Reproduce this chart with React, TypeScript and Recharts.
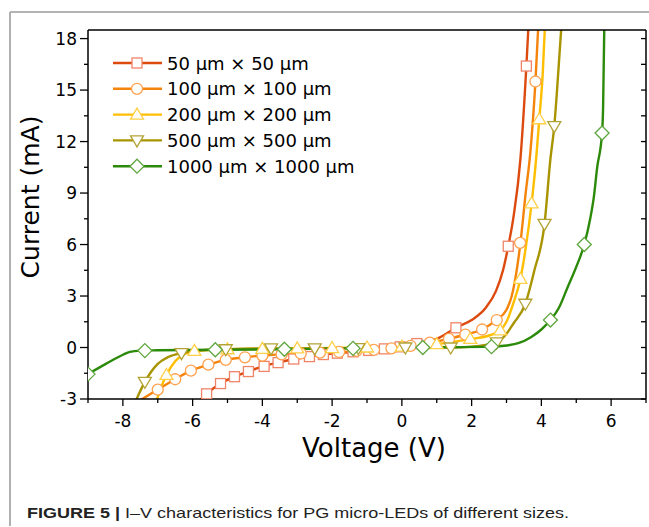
import React from "react"
import { ComposedChart, Line, Scatter, XAxis, YAxis, Legend } from "recharts"

// tick values
const voltageMajor = [-8, -6, -4, -2, 0, 2, 4, 6]
const voltageTicks = [-9, -8, -7, -6, -5, -4, -3, -2, -1, 0, 1, 2, 3, 4, 5, 6, 7]
const currentMajor = [-3, 0, 3, 6, 9, 12, 15, 18]
const currentTicks = [-3, -1.5, 0, 1.5, 3, 4.5, 6, 7.5, 9, 10.5, 12, 13.5, 15, 16.5, 18]

const sizeLabels = [
  "50 μm × 50 μm",
  "100 μm × 100 μm",
  "200 μm × 200 μm",
  "500 μm × 500 μm",
  "1000 μm × 1000 μm",
]

// I-V curves, [voltage (V), current (mA)]
const curve50 = [
  [-5.85, -3.2], [-5.6, -2.7], [-5.2, -2.1], [-4.8, -1.7], [-4.4, -1.4], [-4.0, -1.1],
  [-3.55, -0.88], [-3.1, -0.67], [-2.65, -0.53], [-2.2, -0.4], [-1.8, -0.32], [-1.4, -0.25],
  [-1.0, -0.18], [-0.5, -0.08], [0, 0.05], [0.5, 0.25], [1.0, 0.5], [1.55, 1.15], [2.0, 1.6],
  [2.4, 2.3], [2.7, 3.3], [2.9, 4.5], [3.05, 5.9], [3.2, 7.6], [3.4, 11], [3.57, 16.4], [3.65, 19.5],
]
const curve100 = [
  [-7.6, -3.2], [-7.0, -2.45], [-6.5, -1.85], [-6.05, -1.35], [-5.55, -1.0], [-5.05, -0.72],
  [-4.5, -0.57], [-4.0, -0.47], [-3.45, -0.4], [-2.9, -0.35], [-2.0, -0.28], [-1.0, -0.18],
  [0, 0.0], [0.8, 0.28], [1.35, 0.5], [1.8, 0.75], [2.3, 1.05], [2.7, 1.6], [3.0, 2.2],
  [3.15, 3.0], [3.3, 4.6], [3.4, 6.1], [3.55, 9.0], [3.68, 11.3], [3.83, 15.5], [3.93, 19.5],
]
const curve200 = [
  [-7.05, -3.2], [-6.9, -2.3], [-6.75, -1.6], [-6.5, -0.8], [-6.2, -0.35], [-5.9, -0.2],
  [-5.0, -0.1], [-4.0, -0.08], [-3.0, -0.05], [-2.0, -0.03], [-1.0, 0.0], [0, 0.05],
  [1.0, 0.2], [2.0, 0.5], [2.5, 0.7], [2.82, 1.0], [3.0, 1.5], [3.2, 2.6], [3.4, 4.0],
  [3.55, 5.8], [3.72, 8.4], [3.85, 11], [3.94, 13.3], [4.04, 16], [4.12, 19.5],
]
const curve500 = [
  [-7.65, -3.2], [-7.37, -2.0], [-7.0, -0.95], [-6.7, -0.55], [-6.3, -0.32], [-5.8, -0.18],
  [-5.0, -0.1], [-4.0, -0.05], [-2.5, -0.05], [-1.25, -0.03], [0.1, 0.0], [1.4, 0.0],
  [2.0, 0.05], [2.4, 0.15], [2.72, 0.3], [3.0, 0.8], [3.2, 1.4], [3.54, 2.55], [3.8, 4.5],
  [4.09, 7.2], [4.26, 11], [4.37, 12.9], [4.5, 16.5], [4.6, 19.5],
]
const curve1000 = [
  [-9.0, -1.55], [-8.5, -0.97], [-8.0, -0.42], [-7.8, -0.25], [-7.5, -0.18], [-7.0, -0.16],
  [-5.35, -0.13], [-3.37, -0.1], [-1.4, -0.05], [0.6, 0.0], [2.57, 0.05], [3.0, 0.12],
  [3.34, 0.25], [3.7, 0.6], [4.0, 1.05], [4.26, 1.6], [4.5, 2.3], [4.75, 3.5], [5.0, 4.7],
  [5.23, 6.0], [5.4, 7.5], [5.5, 8.7], [5.6, 10.5], [5.74, 12.5], [5.77, 14], [5.81, 19.5],
]

// symbol positions
const marks50 = [
  [-5.6, -2.7], [-5.2, -2.1], [-4.8, -1.7], [-4.4, -1.4], [-3.95, -1.1], [-3.55, -0.88],
  [-3.1, -0.67], [-2.65, -0.53], [-2.25, -0.41], [-1.85, -0.33], [-1.4, -0.25], [-0.95, -0.17],
  [-0.5, -0.08], [-0.05, 0.04], [0.43, 0.23], [1.55, 1.15], [3.05, 5.9], [3.57, 16.4],
]
const marks100 = [
  [-7.0, -2.45], [-6.5, -1.85], [-6.05, -1.35], [-5.55, -1.0], [-5.05, -0.72], [-4.5, -0.57],
  [-4.0, -0.47], [-3.45, -0.4], [-2.9, -0.35], [-2.35, -0.3], [-1.8, -0.26], [-1.3, -0.2],
  [-0.8, -0.14], [-0.3, -0.05], [0.25, 0.1], [0.8, 0.28], [1.35, 0.5], [1.82, 0.75],
  [2.3, 1.05], [2.72, 1.6], [3.39, 6.1], [3.83, 15.5],
]
const marks200 = [
  [-6.75, -1.6], [-5.95, -0.2], [-5.0, -0.1], [-4.0, -0.08], [-3.0, -0.05], [-2.0, -0.03],
  [-1.0, 0.0], [0.0, 0.05], [1.0, 0.2], [1.96, 0.5], [2.82, 1.0], [3.4, 4.0], [3.72, 8.4], [3.94, 13.3],
]
const marks500 = [
  [-7.37, -2.0], [-6.32, -0.33], [-5.05, -0.1], [-3.75, -0.05], [-2.5, -0.05], [-1.25, -0.03],
  [0.1, 0.0], [1.4, 0.0], [2.72, 0.3], [3.54, 2.55], [4.09, 7.2], [4.37, 12.9],
]
const marks1000 = [
  [-9.0, -1.55], [-7.37, -0.18], [-5.35, -0.13], [-3.37, -0.1], [-1.4, -0.05], [0.6, 0.0],
  [2.57, 0.05], [4.26, 1.6], [5.23, 6.0], [5.74, 12.5],
]

const toRows = (pts: number[][]) => pts.map(([v, i]) => ({ v, i }))

const series = [
  { name: sizeLabels[0], curve: curve50, marks: marks50, line: "#DC4A0E", mark: "#F08468", shape: "square" },
  { name: sizeLabels[1], curve: curve100, marks: marks100, line: "#F5840C", mark: "#FFA14E", shape: "circle" },
  { name: sizeLabels[2], curve: curve200, marks: marks200, line: "#FFBE00", mark: "#FFCF45", shape: "triangle" },
  { name: sizeLabels[3], curve: curve500, marks: marks500, line: "#A89400", mark: "#B3A335", shape: "down" },
  { name: sizeLabels[4], curve: curve1000, marks: marks1000, line: "#2C8A0A", mark: "#5EA63E", shape: "diamond" },
]

const FONT = "'DejaVu Sans', sans-serif"

function Marker({ cx, cy, shape, color }: any) {
  const common = { fill: "#fff", stroke: color, strokeWidth: 1.3 }
  if (shape === "square") return <rect x={cx - 5} y={cy - 5} width={10} height={10} {...common} />
  if (shape === "circle") return <circle cx={cx} cy={cy} r={5.5} {...common} />
  if (shape === "triangle")
    return <polygon points={`${cx},${cy - 6.5} ${cx + 6.5},${cy + 4.5} ${cx - 6.5},${cy + 4.5}`} {...common} />
  if (shape === "down")
    return <polygon points={`${cx - 6.5},${cy - 4.5} ${cx + 6.5},${cy - 4.5} ${cx},${cy + 6.5}`} {...common} />
  return <polygon points={`${cx},${cy - 7} ${cx + 7},${cy} ${cx},${cy + 7} ${cx - 7},${cy}`} {...common} />
}

const BottomTick = ({ x, y, payload }: any) => {
  const major = voltageMajor.includes(payload.value)
  return (
    <g>
      <line x1={x} x2={x} y1={y} y2={y + (major ? 7 : 4)} stroke="#000" strokeWidth={1.3} />
      {major && (
        <text x={x} y={y + 28} textAnchor="middle" fontSize={17} fontFamily={FONT} fill="#000">
          {payload.value}
        </text>
      )}
    </g>
  )
}

const LeftTick = ({ x, y, payload }: any) => {
  const major = currentMajor.includes(payload.value)
  return (
    <g>
      <line x1={x - (major ? 8 : 4)} x2={x} y1={y} y2={y} stroke="#000" strokeWidth={1.3} />
      {major && (
        <text x={x - 11} y={y + 6} textAnchor="end" fontSize={17} fontFamily={FONT} fill="#000">
          {payload.value}
        </text>
      )}
    </g>
  )
}

const TopTick = ({ x, y }: any) => <line x1={x} x2={x} y1={y} y2={y + 5} stroke="#000" strokeWidth={1.3} />
const RightTick = ({ x, y }: any) => <line x1={x - 5} x2={x} y1={y} y2={y} stroke="#000" strokeWidth={1.3} />

const LegendBox = () => (
  <svg width={290} height={135} style={{ display: "block" }}>
    {series.map((s, k) => {
      const y = 15 + k * 25.8
      return (
        <g key={s.name}>
          <line x1={13} x2={62} y1={y} y2={y} stroke={s.line} strokeWidth={2.4} />
          <Marker cx={37} cy={y} shape={s.shape} color={s.mark} />
          <text x={67} y={y + 6.5} fontSize={18} fontFamily={FONT} fill="#000">
            {s.name}
          </text>
        </g>
      )
    })}
  </svg>
)

export default function App() {
  return (
    <div style={{ position: "absolute", left: 0, top: 0, width: 649, height: 527, background: "#fff" }}>
      <ComposedChart width={649} height={527} margin={{ top: 29, right: 2, bottom: 98, left: 28 }}>
        <XAxis
          xAxisId="x"
          dataKey="v"
          type="number"
          domain={[-9, 7]}
          allowDataOverflow
          ticks={voltageTicks}
          interval={0}
          height={30}
          tickSize={0}
          tickMargin={0}
          tickLine={false}
          tick={BottomTick}
          axisLine={{ stroke: "#000", strokeWidth: 1.5 }}
        />
        <XAxis
          xAxisId="top"
          orientation="top"
          type="number"
          domain={[-9, 7]}
          allowDataOverflow
          ticks={voltageTicks}
          interval={0}
          height={1}
          tickSize={0}
          tickMargin={0}
          tickLine={false}
          tick={TopTick}
          axisLine={{ stroke: "#000", strokeWidth: 1.5 }}
        />
        <YAxis
          yAxisId="y"
          dataKey="i"
          type="number"
          domain={[-3, 18.5]}
          allowDataOverflow
          ticks={currentTicks}
          interval={0}
          width={60}
          tickSize={0}
          tickMargin={0}
          tickLine={false}
          tick={LeftTick}
          axisLine={{ stroke: "#000", strokeWidth: 1.5 }}
        />
        <YAxis
          yAxisId="right"
          orientation="right"
          type="number"
          domain={[-3, 18.5]}
          allowDataOverflow
          ticks={currentTicks}
          interval={0}
          width={1}
          tickSize={0}
          tickMargin={0}
          tickLine={false}
          tick={RightTick}
          axisLine={{ stroke: "#000", strokeWidth: 1.5 }}
        />
        {series.map((s) => (
          <Line
            key={"l" + s.name}
            xAxisId="x"
            yAxisId="y"
            data={toRows(s.curve)}
            dataKey="i"
            type="monotone"
            stroke={s.line}
            strokeWidth={2.4}
            dot={false}
            isAnimationActive={false}
          />
        ))}
        {series.map((s) => (
          <Scatter
            key={"m" + s.name}
            xAxisId="x"
            yAxisId="y"
            data={toRows(s.marks)}
            dataKey="i"
            shape={(p: any) => <Marker cx={p.cx} cy={p.cy} shape={s.shape} color={s.mark} />}
            isAnimationActive={false}
          />
        ))}
        <Legend
          layout="vertical"
          align="center"
          verticalAlign="middle"
          content={LegendBox}
          wrapperStyle={{ left: 100, top: 48, width: 290, height: 135 }}
        />
      </ComposedChart>
      <svg
        width={649}
        height={527}
        style={{ position: "absolute", left: 0, top: 0, pointerEvents: "none" }}
      >
        <line x1={10} x2={649} y1={12} y2={12} stroke="#9a9a9a" strokeWidth={1.5} />
        <line x1={10} x2={10} y1={12} y2={526} stroke="#b0b0b0" strokeWidth={2} />
        <text x={374} y={457} textAnchor="middle" fontSize={26} fontFamily={FONT} fill="#000">
          Voltage (V)
        </text>
        <text
          x={39}
          y={197}
          transform="rotate(-90 39 197)"
          textAnchor="middle"
          fontSize={25}
          fontFamily={FONT}
          fill="#000"
        >
          Current (mA)
        </text>
        <text
          x={27}
          y={518}
          fontSize={15}
          fontFamily="'Liberation Sans', Arial, sans-serif"
          fill="#222"
          textLength={542}
          lengthAdjust="spacingAndGlyphs"
        >
          <tspan fontWeight="bold">FIGURE 5 | </tspan>
          I–V characteristics for PG micro-LEDs of different sizes.
        </text>
      </svg>
    </div>
  )
}
